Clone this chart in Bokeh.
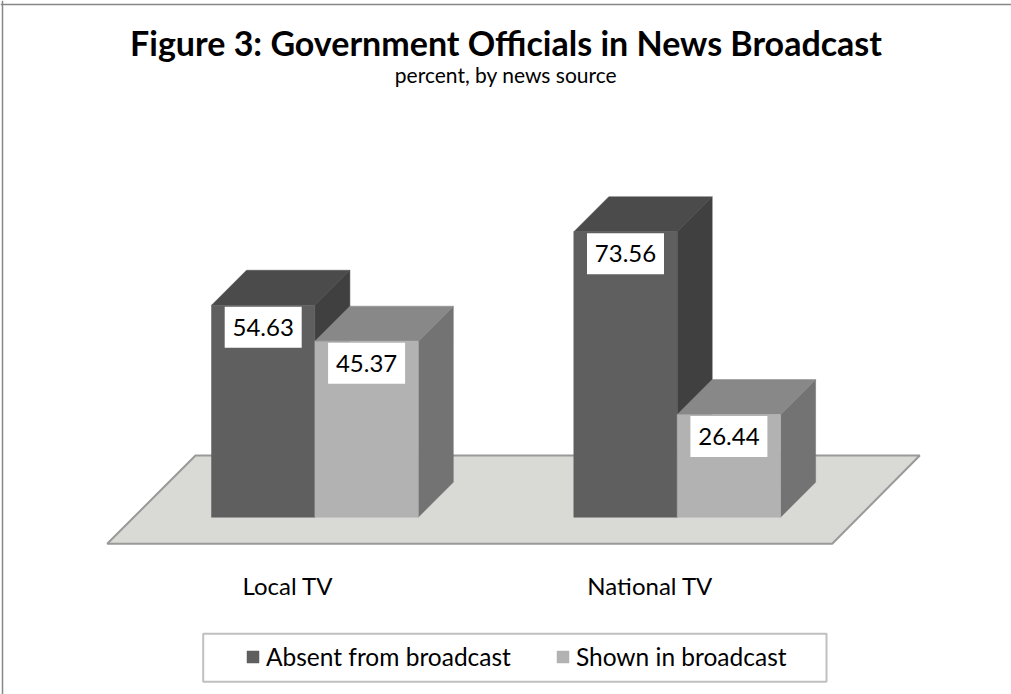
from bokeh.plotting import figure
from bokeh.models import Range1d, Legend, LegendItem, Span, ColumnDataSource
from bokeh.core.properties import value
from bokeh.embed import file_html
from bokeh.resources import INLINE

# ---- data ----
categories = ["Local TV", "National TV"]
series = ["Absent from broadcast", "Shown in broadcast"]
absent = [54.63, 73.56]
shown = [45.37, 26.44]
title_text = "Figure 3: Government Officials in News Broadcast"
subtitle_text = "percent, by news source"

# ---- layout / style constants (pixels) ----
W, H = 1011, 694
BASE_PX = 516.7          # pixel row of value 0 (front base of bars)
SCALE = 3.88             # pixels per percent
BAR_W = 103.4
GROUP_X0 = 211.0
GROUP_STEP = 362.3
DEPTH_PX = 35.0
FONT = "Lato"

def v2(py):
    """pixel row -> value units"""
    return (BASE_PX - py) / SCALE

DX = DEPTH_PX
DY = DEPTH_PX / SCALE

p = figure(width=W, height=H, output_backend="svg", toolbar_location=None,
           x_range=Range1d(0, W), y_range=Range1d(v2(H), v2(0)),
           min_border=0, min_border_left=0, min_border_right=0,
           min_border_top=0, min_border_bottom=0)
p.axis.visible = False
p.grid.visible = False
p.outline_line_color = None
p.background_fill_color = "white"
p.border_fill_color = "white"

# outer frame (left and top edges visible)
p.add_layout(Span(location=v2(4), dimension="width", line_color="#878787", line_width=1.5))
p.add_layout(Span(location=2, dimension="height", line_color="#878787", line_width=1.5))

# floor
FL_FRONT, FL_BACK = 543.3, 455.0
p.patch([106.7, 831.7, 919.3, 195.0], [v2(FL_FRONT), v2(FL_FRONT), v2(FL_BACK), v2(FL_BACK)],
        fill_color="#d9d9d5", line_color="#999999", line_width=2)

colors = {
    0: dict(front="#5f5f5f", top="#4b4b4b", side="#404040"),
    1: dict(front="#b2b2b2", top="#888888", side="#737373"),
}

front_renderers = {0: [], 1: []}
label_x, label_y, label_txt = [], [], []
for i, cat in enumerate(categories):
    for j, vals in enumerate([absent, shown]):
        v = vals[i]
        x0 = GROUP_X0 + i * GROUP_STEP + j * BAR_W
        x1 = x0 + BAR_W
        c = colors[j]
        # side face
        p.patch([x1, x1 + DX, x1 + DX, x1], [0, DY, v + DY, v],
                fill_color=c["side"], line_color=c["side"], line_width=0.5)
        # top face
        p.patch([x0, x0 + DX, x1 + DX, x1], [v, v + DY, v + DY, v],
                fill_color=c["top"], line_color=c["top"], line_width=0.5)
        # front face
        src = ColumnDataSource(dict(left=[x0], right=[x1], top=[v], bottom=[0]))
        r = p.quad(left="left", right="right", top="top", bottom="bottom", source=src,
                   fill_color=c["front"], line_color=c["front"], line_width=0.5)
        front_renderers[j].append(r)
        label_x.append((x0 + x1) / 2)
        label_y.append(v - 22.0 / SCALE)
        label_txt.append(f"{v:.2f}")

# data labels
lsrc = ColumnDataSource(dict(x=label_x, y=label_y, t=label_txt))
p.rect(x="x", y="y", width=77, height=41, width_units="screen", height_units="screen",
       source=lsrc, fill_color="white", line_color=None)
p.text(x="x", y="y", text="t", source=lsrc, text_align="center", text_baseline="middle",
       text_font=value(FONT), text_font_size="24px", text_color="black")

# category labels
cat_x = [GROUP_X0 + i * GROUP_STEP + BAR_W - 27 for i in range(len(categories))]
p.text(x=cat_x, y=[v2(585)] * len(categories), text=categories, text_align="center",
       text_baseline="middle", text_font=value(FONT), text_font_size="24px", text_color="black")

# title & subtitle
p.text(x=[W / 2], y=[v2(42)], text=[title_text], text_align="center", text_baseline="middle",
       text_font=value(FONT), text_font_style="bold", text_font_size="34px", text_color="black")
p.text(x=[W / 2], y=[v2(74)], text=[subtitle_text], text_align="center", text_baseline="middle",
       text_font=value(FONT), text_font_size="21px", text_color="black")

# legend box
p.quad(left=[202.7], right=[826.0], top=[v2(633.3)], bottom=[v2(681.3)],
       fill_color="white", line_color="#c0c0c0", line_width=2)

legend = Legend(items=[LegendItem(label=series[0], renderers=[front_renderers[0][0]]),
                       LegendItem(label=series[1], renderers=[front_renderers[1][0]])],
                orientation="horizontal", location=(245, 23),
                glyph_width=15, glyph_height=15, label_standoff=6, spacing=44,
                padding=0, margin=0, border_line_color=None, background_fill_alpha=0,
                label_text_font=FONT, label_text_font_size="24.5px", label_text_color="black")
p.add_layout(legend, "center")

open("out.html", "w").write(file_html(p, INLINE))
